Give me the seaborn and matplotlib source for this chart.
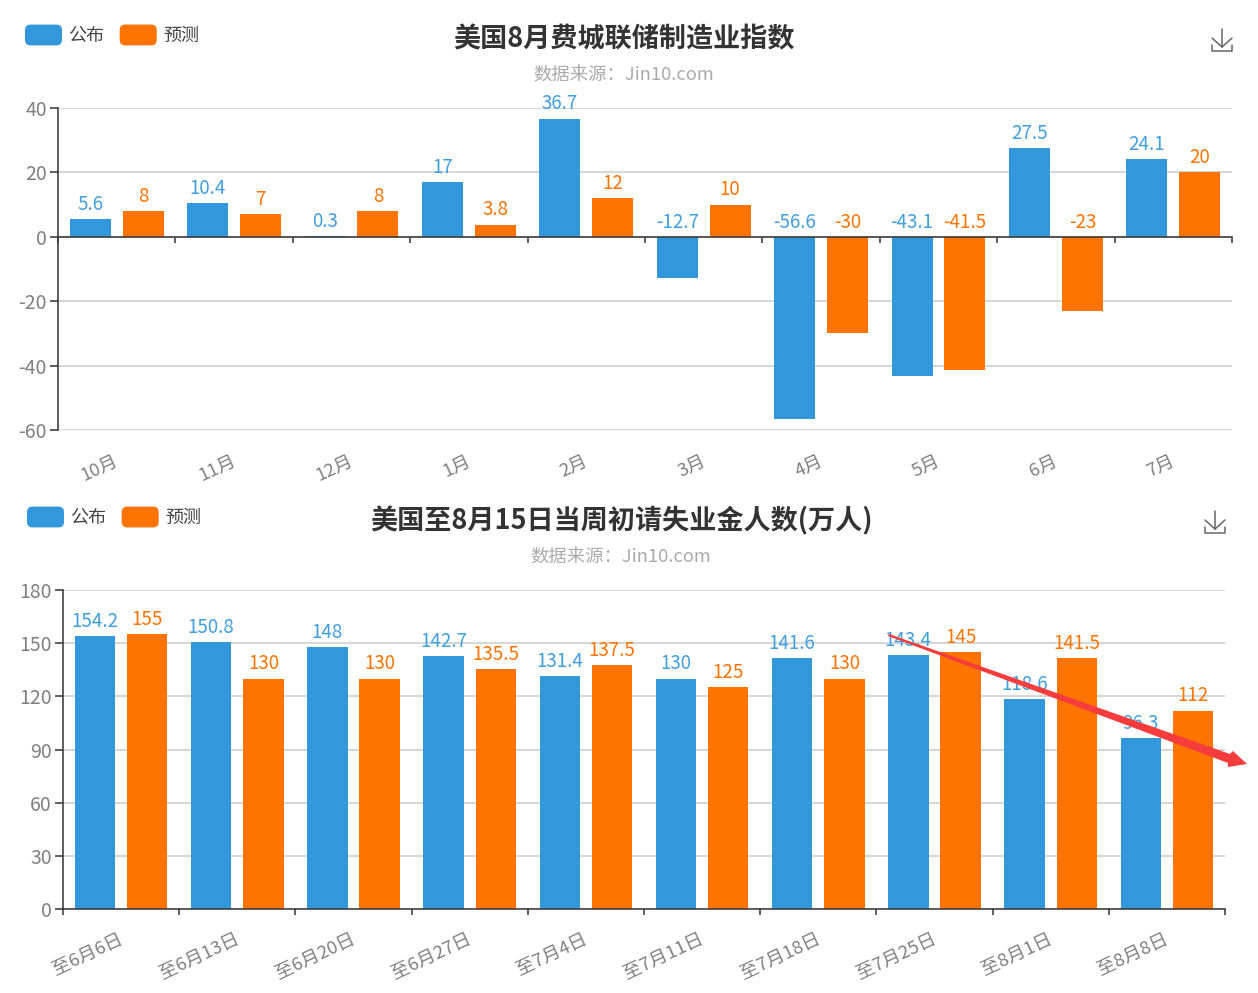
import matplotlib
matplotlib.use("Agg")
import matplotlib.pyplot as plt
import pandas as pd
import seaborn as sns
from matplotlib.lines import Line2D
from matplotlib.patches import FancyBboxPatch, Patch, Polygon
from matplotlib.legend_handler import HandlerPatch
from matplotlib.transforms import ScaledTranslation

sns.set_theme(style="white")
plt.rcParams['font.family'] = ['Noto Sans CJK SC', 'DejaVu Sans']
plt.rcParams['axes.unicode_minus'] = False

W, H = 1258, 993
BLUE, ORANGE = '#3398DB', '#FF7300'
SERIES = ['公布', '预测']

months = ['10月', '11月', '12月', '1月', '2月', '3月', '4月', '5月', '6月', '7月']
pmi_actual = [5.6, 10.4, 0.3, 17, 36.7, -12.7, -56.6, -43.1, 27.5, 24.1]
pmi_forecast = [8, 7, 8, 3.8, 12, 10, -30, -41.5, -23, 20]

weeks = ['至6月6日', '至6月13日', '至6月20日', '至6月27日', '至7月4日',
         '至7月11日', '至7月18日', '至7月25日', '至8月1日', '至8月8日']
claims_actual = [154.2, 150.8, 148, 142.7, 131.4, 130, 141.6, 143.4, 118.6, 96.3]
claims_forecast = [155, 130, 130, 135.5, 137.5, 125, 130, 145, 141.5, 112]

fig = plt.figure(figsize=(W / 100, H / 100), dpi=100, facecolor='white')


def fx(x):
    return x / W


def fy(y):
    return 1 - y / H


class RoundHandler(HandlerPatch):
    def create_artists(self, legend, orig, xd, yd, width, height, fontsize, trans):
        p = FancyBboxPatch((-xd + 3, -yd + 3), width - 6, height - 6,
                           boxstyle='round,pad=3,rounding_size=4',
                           facecolor=orig.get_facecolor(), edgecolor='none', transform=trans)
        return [p]


def panel(rect, cats, a, b, ylim, yticks, title, tx, ty, sy, lx, ly, icon, tick_pad, rot):
    left, top, right, bottom = rect
    ax = fig.add_axes([fx(left), fy(bottom), fx(right - left), (bottom - top) / H])
    df = pd.DataFrame({'cat': cats * 2, 'v': a + b,
                       's': [SERIES[0]] * len(a) + [SERIES[1]] * len(b)})
    sns.barplot(data=df, x='cat', y='v', hue='s', palette=[BLUE, ORANGE], width=0.9,
                gap=0.226, ax=ax, legend=False, errorbar=None, saturation=1, zorder=3,
                linewidth=0)
    ax.set_xlim(-0.5, len(cats) - 0.5)
    ax.set_ylim(*ylim)
    ax.set_yticks(yticks)
    ax.set_xlabel('')
    ax.set_ylabel('')
    ax.yaxis.grid(True, color='#CCCCCC', lw=1.1, zorder=0)
    ax.xaxis.grid(False)
    ax.set_axisbelow(True)
    for s in ['top', 'right']:
        ax.spines[s].set_visible(False)
    ax.spines['left'].set_color('#333333')
    ax.spines['left'].set_linewidth(1.1)
    ax.spines['bottom'].set_color('#333333')
    ax.spines['bottom'].set_linewidth(1.1)
    ax.spines['bottom'].set_position(('data', 0))
    ax.spines['bottom'].set_zorder(5)
    ax.set_xticks(range(len(cats)))
    ax.set_xticks([i - 0.5 for i in range(len(cats) + 1)], minor=True)
    ax.set_xticklabels(cats, rotation=rot, ha='right', rotation_mode='anchor',
                       color='#808080', fontsize=13.3)
    ax.tick_params(axis='x', which='major', length=0, pad=tick_pad)
    ax.tick_params(axis='x', which='minor', length=4, width=1.1, color='#333333', bottom=True)
    ax.tick_params(axis='y', length=6, width=1.1, color='#333333', labelcolor='#808080',
                   labelsize=14, pad=2, left=True)
    shift = ScaledTranslation(-3 / 100, 0, fig.dpi_scale_trans)
    for lab in ax.get_xticklabels():
        lab.set_transform(lab.get_transform() + shift)
    for x_i in range(len(cats)):
        for off, vals, col in [(-0.225, a, '#3F9FDF'), (0.225, b, ORANGE)]:
            v = vals[x_i]
            ax.annotate(f'{v}', (x_i + off, max(v, 0)), xytext=(0, 3),
                        textcoords='offset points', ha='center', va='bottom',
                        color=col, fontsize=13.5, zorder=6, annotation_clip=False)
    fig.text(fx(tx), fy(ty), title, ha='center', va='center', fontsize=19.5,
             fontweight='bold', color='#333333')
    fig.text(fx(tx), fy(sy), '数据来源\uff1aJin10.com', ha='center', va='center',
             fontsize=13.2, color='#AAAAAA')
    handles = [Patch(facecolor=BLUE, label=SERIES[0]), Patch(facecolor=ORANGE, label=SERIES[1])]
    fig.legend(handles=handles, loc='center left', bbox_to_anchor=(fx(lx), fy(ly)),
               bbox_transform=fig.transFigure, ncol=2, frameon=False, fontsize=13,
               handlelength=2.05, handleheight=1.4, handletextpad=0.35, columnspacing=0.85,
               borderaxespad=0, borderpad=0, labelcolor='#444444',
               handler_map={Patch: RoundHandler()})
    ix, iy = icon
    segs = [[(ix, iy - 10), (ix, iy + 8)], [(ix - 10, iy - 1), (ix, iy + 8)],
            [(ix + 10, iy - 1), (ix, iy + 8)],
            [(ix - 10, iy + 6), (ix - 10, iy + 12), (ix + 10, iy + 12), (ix + 10, iy + 6)]]
    for seg in segs:
        fig.add_artist(Line2D([fx(p[0]) for p in seg], [fy(p[1]) for p in seg],
                              color='#666666', lw=1.1, transform=fig.transFigure))
    return ax


panel((58, 108, 1232, 430), months, pmi_actual, pmi_forecast, (-60, 40),
      [-60, -40, -20, 0, 20, 40], '美国8月费城联储制造业指数', 624, 39, 76,
      25, 35, (1222, 39), 155, 25)
panel((63, 590, 1225, 909), weeks, claims_actual, claims_forecast, (0, 180),
      [0, 30, 60, 90, 120, 150, 180], '美国至8月15日当周初请失业金人数(万人)', 621, 521, 558,
      27, 517, (1215, 521), 15, 25)

arrow_px = [(888, 636), (889, 634), (1230, 754), (1233, 751), (1247, 764), (1228, 767), (1228, 763)]
fig.add_artist(Polygon([(fx(x), fy(y)) for x, y in arrow_px], closed=True,
                       facecolor='#F63C3C', edgecolor='none', transform=fig.transFigure,
                       zorder=10))

fig.savefig('out.png', dpi=100)
